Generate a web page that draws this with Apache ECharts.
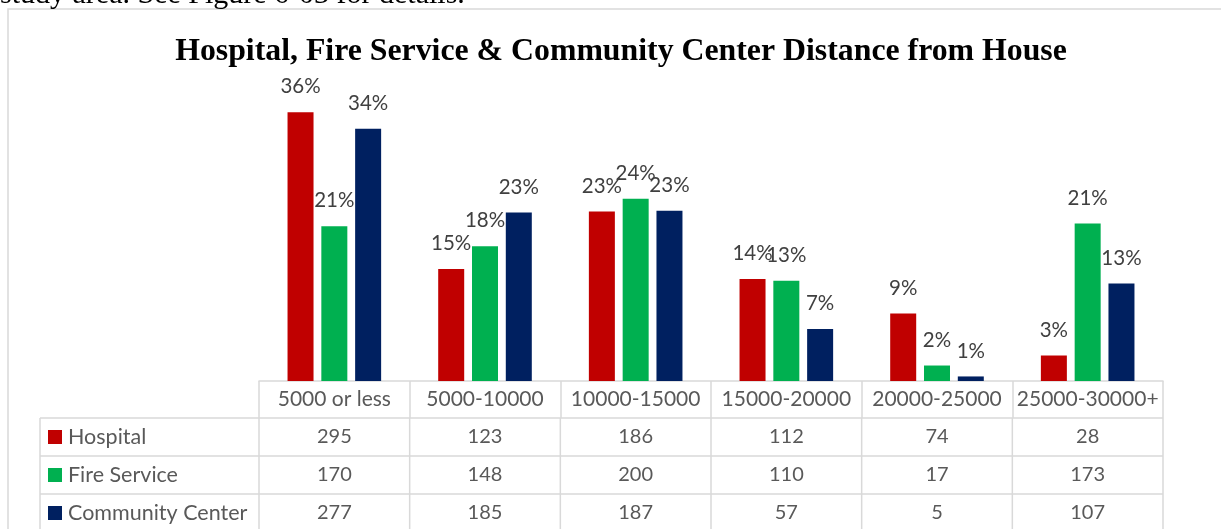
<!DOCTYPE html>
<html>
<head>
<meta charset="utf-8">
<script src="https://cdn.jsdelivr.net/npm/echarts@6/dist/echarts.min.js"></script>
<style>
  html, body { margin: 0; padding: 0; background: #ffffff; }
  #chart { width: 1221px; height: 529px; }
</style>
</head>
<body>
<div id="chart"></div>
<script>
// Distance bands from house
const categories = ['5000 or less', '5000-10000', '10000-15000', '15000-20000', '20000-25000', '25000-30000+'];
// Respondent counts per facility
const hospital = [295, 123, 186, 112, 74, 28];
const fireService = [170, 148, 200, 110, 17, 173];
const communityCenter = [277, 185, 187, 57, 5, 107];
const seriesNames = ['Hospital', 'Fire Service', 'Community Center'];
const seriesColors = ['#C00000', '#00B050', '#002060'];

const counts = [hospital, fireService, communityCenter];
// Share of each facility's respondents in every band, in percent
const shares = counts.map(arr => {
  const total = arr.reduce((a, b) => a + b, 0);
  return arr.map(v => v / total * 100);
});

const W = 1221, H = 529;
const GRID_LEFT = 259, GRID_RIGHT = 58, GRID_TOP = 83, GRID_BOTTOM = 148;
const HEADER_H = 37, ROW_H = 38, TABLE_LEFT = 40;
const LINE = '#d9d9d9', TEXT = '#595959';
const FONT = 'Lato, "Open Sans", sans-serif';

const axisY = H - GRID_BOTTOM;
const plotRight = W - GRID_RIGHT;
const colW = (plotRight - GRID_LEFT) / categories.length;

// Data table under the plot
const graphics = [];
// outer chart frame
graphics.push({ type: 'rect', shape: { x: 8, y: 9, width: W + 20, height: H + 20 },
  style: { fill: 'none', stroke: LINE, lineWidth: 1.5 }, silent: true });
// running text above the chart
graphics.push({ type: 'text', left: 0, top: -20,
  style: { text: 'study area. See Figure 6-03 for details.', font: '30px "Liberation Serif", serif', fill: '#000' } });

const rowsTop = axisY + HEADER_H;
for (let r = 0; r <= counts.length; r++) {
  const y = rowsTop + r * ROW_H;
  graphics.push({ type: 'line', shape: { x1: TABLE_LEFT, y1: y, x2: plotRight, y2: y },
    style: { stroke: LINE, lineWidth: 1.5 }, silent: true });
}
const tableBottom = rowsTop + counts.length * ROW_H + 2;
graphics.push({ type: 'line', shape: { x1: TABLE_LEFT, y1: rowsTop, x2: TABLE_LEFT, y2: tableBottom },
  style: { stroke: LINE, lineWidth: 1.5 }, silent: true });
for (let c = 0; c <= categories.length; c++) {
  const x = GRID_LEFT + c * colW;
  graphics.push({ type: 'line', shape: { x1: x, y1: rowsTop, x2: x, y2: tableBottom },
    style: { stroke: LINE, lineWidth: 1.5 }, silent: true });
}
counts.forEach((arr, r) => {
  const cy = rowsTop + r * ROW_H + ROW_H / 2;
  graphics.push({ type: 'rect', shape: { x: 48, y: cy - 7, width: 14, height: 14 },
    style: { fill: seriesColors[r] }, silent: true });
  graphics.push({ type: 'text', x: 68, y: cy,
    style: { text: seriesNames[r], font: '21.5px ' + FONT, fill: TEXT, textAlign: 'left', textVerticalAlign: 'middle' } });
  arr.forEach((v, c) => {
    graphics.push({ type: 'text', x: GRID_LEFT + (c + 0.5) * colW, y: cy,
      style: { text: String(v), font: '20px ' + FONT, fill: TEXT, textAlign: 'center', textVerticalAlign: 'middle' } });
  });
});

const chart = echarts.init(document.getElementById('chart'), null, { renderer: 'canvas' });
chart.setOption({
  animation: false,
  backgroundColor: '#ffffff',
  title: {
    text: 'Hospital, Fire Service & Community Center Distance from House',
    left: 616, top: 31, textAlign: 'center',
    textStyle: { fontFamily: '"Liberation Serif", "Times New Roman", serif', fontWeight: 'bold', fontSize: 31.8, color: '#000' }
  },
  grid: { left: GRID_LEFT, right: GRID_RIGHT, top: GRID_TOP, bottom: GRID_BOTTOM },
  xAxis: {
    type: 'category',
    data: categories,
    axisLine: { lineStyle: { color: LINE, width: 1.5 } },
    axisTick: { show: true, length: HEADER_H, lineStyle: { color: LINE, width: 1.5 } },
    axisLabel: { color: TEXT, fontFamily: FONT, fontSize: 21, margin: 8, interval: 0 }
  },
  yAxis: { type: 'value', min: 0, max: 40, show: false, splitLine: { show: false } },
  series: shares.map((data, i) => ({
    name: seriesNames[i],
    type: 'bar',
    data: data,
    barWidth: 26,
    barGap: '30%',
    itemStyle: { color: seriesColors[i] },
    label: {
      show: true, position: 'top', distance: 15,
      formatter: p => Math.round(p.value) + '%',
      color: '#404040', fontFamily: FONT, fontSize: 20.5
    }
  })),
  graphic: graphics
});
</script>
</body>
</html>
